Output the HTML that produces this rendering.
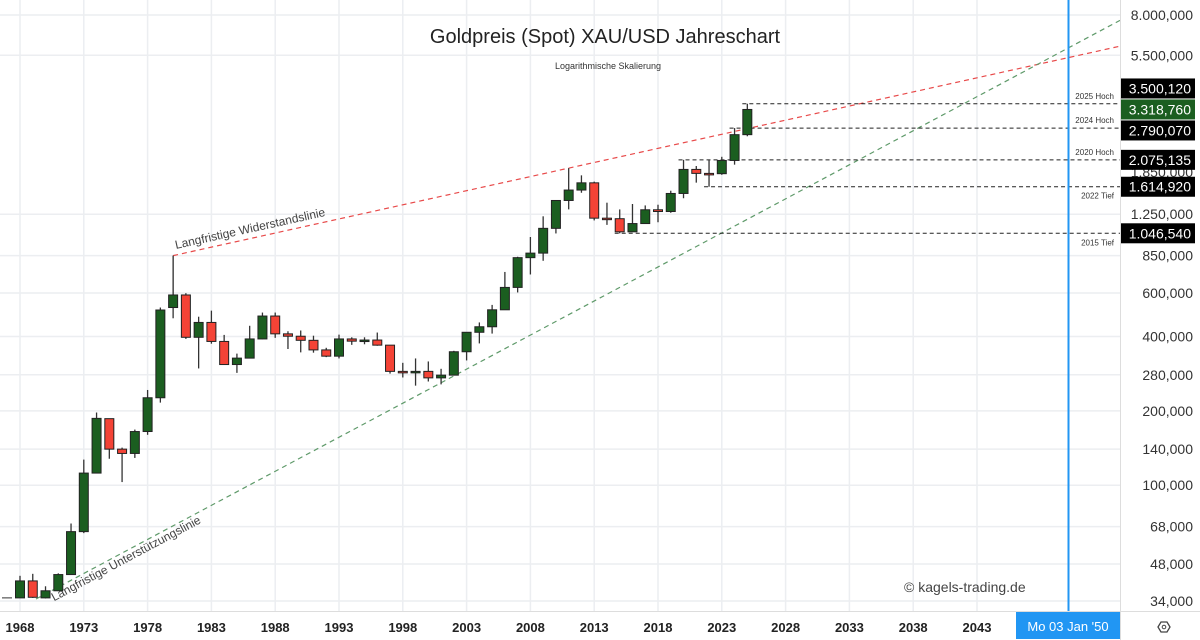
<!DOCTYPE html>
<html><head><meta charset="utf-8"><style>
body{margin:0;background:#fff}
svg{display:block;font-family:"Liberation Sans","DejaVu Sans",sans-serif}
</style></head><body>
<svg id="c" width="1200" height="640" viewBox="0 0 1200 640">
<g id="grid"></g>
<g id="lines"></g>
<g id="candles"></g>
<g id="axes"></g>
</svg>
<script>
const years=[1967,1968,1969,1970,1971,1972,1973,1974,1975,1976,1977,1978,1979,1980,1981,1982,1983,1984,1985,1986,1987,1988,1989,1990,1991,1992,1993,1994,1995,1996,1997,1998,1999,2000,2001,2002,2003,2004,2005,2006,2007,2008,2009,2010,2011,2012,2013,2014,2015,2016,2017,2018,2019,2020,2021,2022,2023,2024,2025];
const opens=[35,35,41,35,37.4,43.5,64.9,112,186,140,134.5,165,226,524,589,397,456,382,308,327,391,484,410,401,386,353,333,391,383,387,369,289,288,289,272,279,347,416,438,513,632,834,870,1096,1421,1566,1675,1205,1199,1061,1146,1303,1282,1517,1898,1829,1824,2063,2624];
const highs=[35,43,43.8,39,44,70,127,197,186,142,168,243,524,850,599,481,509,406,341,442,500,500,420,423,403,360,407,397,397,415,367,313,326,317,296,350,417,456,537,730,841,1011,1226,1421,1921,1796,1694,1392,1307,1375,1357,1366,1556,2075,1959,2070,2135,2790,3500];
const lows=[35,35,35,34.8,37.3,43.5,64,117,128,103,129,160,216,474,391,297,374,307,285,326,390,395,356,345,344,330,326,370,372,367,283,273,253,263,256,278,320,375,411,520,603,713,810,1045,1308,1527,1180,1132,1046,1062,1146,1160,1267,1451,1678,1615,1805,1984,2585];
const closes=[35,41,35.2,37.4,43.5,64.9,112,186.5,140,134.5,164.95,226,512,589,397,456,382,308,327,391,484,410,401,386,353,333,391,383,387,369,289,288,289,272,279,347,416,438,513,632,834,870,1096,1421,1566,1675,1205,1199,1061,1146,1303,1282,1517,1898,1829,1824,2063,2624,3318.76];
const priceTicks=[8000,5500,1850,1250,850,600,400,280,200,140,100,68,48,34];
const priceTickLabels=["8.000,000","5.500,000","1.850,000","1.250,000","850,000","600,000","400,000","280,000","200,000","140,000","100,000","68,000","48,000","34,000"];
const yearTicks=[1968,1973,1978,1983,1988,1993,1998,2003,2008,2013,2018,2023,2028,2033,2038,2043];
const levelPrices=[3500.12,2790.07,2075.135,1614.92,1046.54];
const levelLabels=["3.500,120","2.790,070","2.075,135","1.614,920","1.046,540"];
const levelNames=["2025 Hoch","2024 Hoch","2020 Hoch","2022 Tief","2015 Tief"];
const levelYears=[2025,2024,2020,2022,2015];
const lastPrice=3318.76, lastLabel="3.318,760";

const NS="http://www.w3.org/2000/svg";
const X=y=>20+12.76*(y-1968);
const Y=p=>601-107.3*Math.log(p/34);
const PR=1120;
function el(parent,tag,attrs,text){const e=document.createElementNS(NS,tag);for(const k in attrs)e.setAttribute(k,attrs[k]);if(text!==undefined)e.textContent=text;document.getElementById(parent).appendChild(e);return e;}
priceTicks.forEach((p,i)=>{
 if(p===1850)return;
 const g=el('grid','line',{x1:0,x2:PR,y1:Y(p),y2:Y(p),stroke:'#eceef1','stroke-width':1.5});
 
 
});
yearTicks.forEach(yr=>{
 const g=el('grid','line',{x1:X(yr),x2:X(yr),y1:0,y2:611,stroke:'#eceef1','stroke-width':1.5});
 
 
});
const r1x=X(1980),r1y=Y(850),r2x=X(2011),r2y=Y(1921);
const rs=(r2y-r1y)/(r2x-r1x);
let t=el('lines','line',{x1:r1x,y1:r1y,x2:PR,y2:r1y+rs*(PR-r1x),stroke:'#e84a4a','stroke-width':1.2,'stroke-dasharray':'5 4'});


t=el('lines','line',{x1:r1x,y1:r1y,x2:r1x,y2:Y(589),stroke:'#555','stroke-width':1});


const s1x=36,s1y=599,s2x=450,s2y=378;const ss=(s2y-s1y)/(s2x-s1x);
t=el('lines','line',{x1:s1x,y1:s1y,x2:PR,y2:s1y+ss*(PR-s1x),stroke:'#5f9a6a','stroke-width':1.2,'stroke-dasharray':'5 4'});


t=el('lines','text',{x:176,y:r1y+rs*(176-r1x)-6,'font-size':12,fill:'#444',transform:`rotate(${Math.atan(rs)*180/Math.PI} 176 ${r1y+rs*(176-r1x)-6})`},'Langfristige Widerstandslinie');


const lx=54,ly=s1y+ss*(lx-s1x)+12;
t=el('lines','text',{x:lx,y:ly,'font-size':12,fill:'#444',transform:`rotate(${Math.atan(ss)*180/Math.PI} ${lx} ${ly})`},'Langfristige Unterstützungslinie');


levelPrices.forEach((p,i)=>{
 const yy=Y(p), x0=X(levelYears[i])-5;
 const l=el('lines','line',{x1:x0,x2:PR,y1:yy,y2:yy,stroke:'#222','stroke-width':1,'stroke-dasharray':'4 3'});
 
 
 const below=levelNames[i].indexOf('Tief')>=0;
 const tx=el('lines','text',{x:1114,y:below?yy+12:yy-5,'font-size':8,fill:'#333','text-anchor':'end'},levelNames[i]);
 
 
});
t=el('lines','line',{x1:1068.5,x2:1068.5,y1:0,y2:612,stroke:'#2196f3','stroke-width':2});


years.forEach((yr,i)=>{
 const x=X(yr),o=opens[i],c=closes[i],up=c>=o;
 if(yr===1967){const f=el('candles','line',{x1:2,x2:12,y1:Y(35),y2:Y(35),stroke:'#333','stroke-width':1});return;}
 const w=el('candles','line',{x1:x,x2:x,y1:Y(highs[i]),y2:Y(lows[i]),stroke:'#333','stroke-width':1.3});
 
 
 const top=Y(Math.max(o,c)),bot=Y(Math.min(o,c));
 const b=el('candles','rect',{x:x-4.5,y:top,width:9,height:Math.max(bot-top,1.5),fill:up?'#1b5e20':'#f44336',stroke:'#222','stroke-width':1});
 
 
});
t=el('axes','line',{x1:PR+0.5,x2:PR+0.5,y1:0,y2:640,stroke:'#ddd','stroke-width':1});


t=el('axes','line',{x1:0,x2:1200,y1:611.5,y2:611.5,stroke:'#ddd','stroke-width':1});


priceTicks.forEach((p,i)=>{
 const tx=el('axes','text',{x:1193,y:Y(p)+5,'font-size':14,fill:'#333','text-anchor':'end'},priceTickLabels[i]);
 
 
});
yearTicks.forEach(yr=>{
 const tx=el('axes','text',{x:X(yr),y:632,'font-size':13,'font-weight':'bold',fill:'#222','text-anchor':'middle'},String(yr));
 
 
});
function box(yy,label,fill,name){
 const r=el('axes','rect',{x:1121,y:yy-10,width:74,height:20,fill:fill});
 
 
 const tx=el('axes','text',{x:1191,y:yy+5,'font-size':14,fill:'#fff','text-anchor':'end'},label);
 
 
}
// collision avoidance around last price label
const lastY=Y(lastPrice);
const items=levelPrices.map((p,i)=>({y:Y(p),label:levelLabels[i]}));
const above=items.filter(o=>o.y<=lastY).sort((a,b)=>b.y-a.y);
const belowI=items.filter(o=>o.y>lastY).sort((a,b)=>a.y-b.y);
let ref=lastY;above.forEach(o=>{o.y=Math.min(o.y,ref-21);ref=o.y;});
ref=lastY;belowI.forEach(o=>{o.y=Math.max(o.y,ref+21);ref=o.y;});
items.forEach(o=>box(o.y,o.label,'#000','level-price-label'));
box(lastY,lastLabel,'#1b5e20','last-price-label');
t=el('axes','rect',{x:1016,y:612,width:104,height:27,fill:'#2196f3'});


t=el('axes','text',{x:1068,y:631,'font-size':13,fill:'#fff','text-anchor':'middle'},"Mo 03 Jan '50");


t=el('axes','text',{x:605,y:43,'font-size':20,fill:'#222','text-anchor':'middle'},'Goldpreis (Spot) XAU/USD Jahreschart');


t=el('axes','text',{x:608,y:69,'font-size':9,fill:'#333','text-anchor':'middle'},'Logarithmische Skalierung');


t=el('axes','text',{x:904,y:592,'font-size':14,fill:'#444'},'© kagels-trading.de');


t=el('axes','polygon',{points:'1158,627 1161,622 1167,622 1170,627 1167,632 1161,632',fill:'none',stroke:'#444','stroke-width':1.3});


t=el('axes','circle',{cx:1164,cy:627,r:1.8,fill:'none',stroke:'#444','stroke-width':1});


</script>
</body></html>
